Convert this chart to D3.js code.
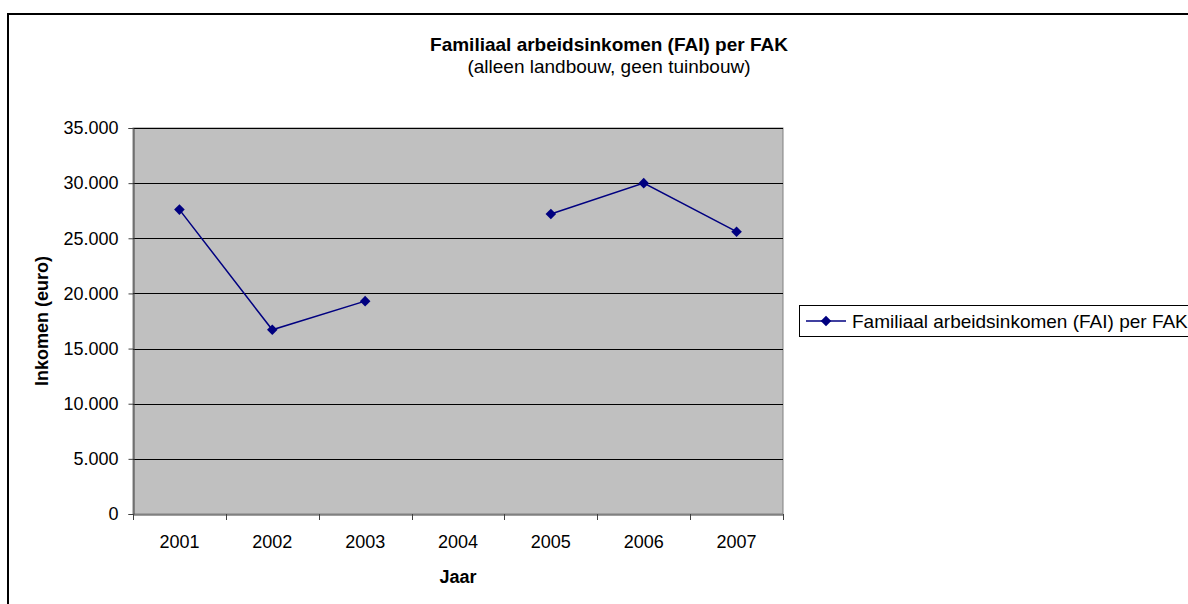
<!DOCTYPE html>
<html><head><meta charset="utf-8">
<script src="https://cdn.jsdelivr.net/npm/d3@7"></script>
<style>body{margin:0;background:#fff;}svg{display:block;font-family:Arial,"Liberation Sans",sans-serif;}</style>
</head><body>
<svg id="c" width="1188" height="604"></svg>
<script>
const years = ["2001","2002","2003","2004","2005","2006","2007"];
const values = [27600, 16700, 19300, null, 27200, 30000, 25600];
const yTicks = [0, 5000, 10000, 15000, 20000, 25000, 30000, 35000];
const seriesName = "Familiaal arbeidsinkomen (FAI) per FAK";
const title = "Familiaal arbeidsinkomen (FAI) per FAK";
const subtitle = "(alleen landbouw, geen tuinbouw)";
const xTitle = "Jaar", yTitle = "Inkomen (euro)";

const FS = 18;
const svg = d3.select("#c");
const L = 133, R = 783, T = 128, B = 514;
const x = d3.scaleBand().domain(years).range([L, R]).padding(0);
const y = d3.scaleLinear().domain([0, 35000]).range([B, T]);
const fmt = d => d3.format(",")(d).replace(/,/g, ".");

// outer border
svg.append("rect").attr("x", 8).attr("y", 14).attr("width", 1200).attr("height", 620)
  .attr("fill", "none").attr("stroke", "#000").attr("stroke-width", 2);

// plot area
svg.append("rect").attr("x", L).attr("y", T).attr("width", R - L).attr("height", B - T)
  .attr("fill", "#c0c0c0").attr("stroke", "#808080").attr("stroke-width", 1);

// gridlines
svg.append("g").selectAll("line").data(yTicks.filter(d => d > 0)).join("line")
  .attr("x1", L).attr("x2", R).attr("y1", d => Math.round(y(d)) + 0.5).attr("y2", d => Math.round(y(d)) + 0.5)
  .attr("stroke", "#000").attr("stroke-width", 1);

// y axis
const ya = svg.append("g").attr("transform", `translate(${L + 0.5},0)`)
  .call(d3.axisLeft(y).tickValues(yTicks).tickFormat(fmt).tickSize(5).tickPadding(10));
ya.select(".domain").attr("stroke", "#404040");
ya.selectAll(".tick line").attr("stroke", "#404040");
ya.selectAll("text").attr("font-size", FS).attr("fill", "#000").attr("font-family", "Arial, Liberation Sans, sans-serif");

// x axis
const xa = svg.append("g").attr("transform", `translate(0,${B + 0.5})`)
  .call(d3.axisBottom(x).tickSize(0).tickPadding(21));
xa.select(".domain").attr("stroke", "#404040");
xa.selectAll("text").attr("font-size", FS).attr("fill", "#000").attr("font-family", "Arial, Liberation Sans, sans-serif");
// category boundary ticks
svg.append("g").selectAll("line").data(years.concat(["end"])).join("line")
  .attr("x1", (d, i) => Math.round(L + i * x.bandwidth()) + 0.5)
  .attr("x2", (d, i) => Math.round(L + i * x.bandwidth()) + 0.5)
  .attr("y1", B).attr("y2", B + 6).attr("stroke", "#404040");

// line
const cx = d => x(d) + x.bandwidth() / 2;
const pts = years.map((d, i) => ({year: d, v: values[i]}));
const line = d3.line().defined(d => d.v != null).x(d => cx(d.year)).y(d => y(d.v));
svg.append("path").datum(pts).attr("d", line).attr("fill", "none")
  .attr("stroke", "#000080").attr("stroke-width", 1.5);
svg.append("g").selectAll("path").data(pts.filter(d => d.v != null)).join("path")
  .attr("d", d3.symbol().type(d3.symbolSquare).size(56))
  .attr("transform", d => `translate(${cx(d.year)},${y(d.v)}) rotate(45)`)
  .attr("fill", "#000080");

// titles
svg.append("text").attr("x", 609).attr("y", 51).attr("text-anchor", "middle")
  .attr("font-size", 19).attr("font-weight", "bold").text(title);
svg.append("text").attr("x", 609).attr("y", 73).attr("text-anchor", "middle")
  .attr("font-size", 19).text(subtitle);
svg.append("text").attr("x", 458).attr("y", 583).attr("text-anchor", "middle")
  .attr("font-size", FS).attr("font-weight", "bold").text(xTitle);
svg.append("text").attr("transform", `translate(48,${(T + B) / 2}) rotate(-90)`).attr("text-anchor", "middle")
  .attr("font-size", FS).attr("font-weight", "bold").text(yTitle);

// legend
const lg = svg.append("g");
lg.append("rect").attr("x", 799.5).attr("y", 305.5).attr("width", 420).attr("height", 31)
  .attr("fill", "#fff").attr("stroke", "#000").attr("stroke-width", 1);
lg.append("line").attr("x1", 806).attr("x2", 846).attr("y1", 321).attr("y2", 321)
  .attr("stroke", "#000080").attr("stroke-width", 1.5);
lg.append("path").attr("d", d3.symbol().type(d3.symbolSquare).size(56))
  .attr("transform", "translate(826,321) rotate(45)").attr("fill", "#000080");
lg.append("text").attr("x", 852).attr("y", 327.5).attr("font-size", 19).text(seriesName);
</script>
</body></html>
